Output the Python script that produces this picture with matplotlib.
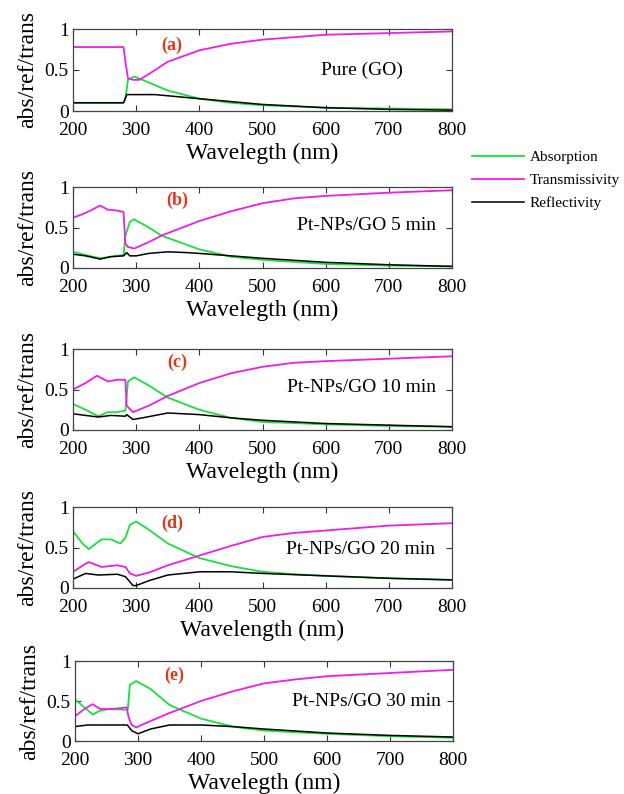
import matplotlib
matplotlib.use("Agg")
import matplotlib.pyplot as plt

plt.rcParams['font.family'] = ['Liberation Serif', 'DejaVu Serif']
plt.rcParams['mathtext.fontset'] = 'stix'

# ---------------- data ----------------
# Panel (a) Pure (GO)
a_abs_x = [200, 240, 280, 283, 287, 297, 310, 350, 400, 450, 500, 600, 700, 800]
a_abs_y = [0.10, 0.10, 0.10, 0.15, 0.38, 0.42, 0.38, 0.25, 0.15, 0.10, 0.07, 0.04, 0.03, 0.02]
a_tr_x = [200, 240, 280, 283, 287, 295, 305, 320, 350, 400, 450, 500, 550, 600, 700, 800]
a_tr_y = [0.78, 0.78, 0.78, 0.60, 0.40, 0.38, 0.38, 0.45, 0.60, 0.74, 0.82, 0.87, 0.90, 0.93, 0.95, 0.97]
a_re_x = [200, 240, 280, 285, 330, 400, 500, 600, 700, 800]
a_re_y = [0.10, 0.10, 0.10, 0.20, 0.20, 0.15, 0.08, 0.04, 0.02, 0.01]

# Panel (b) Pt-NPs/GO 5 min
b_abs_x = [200, 220, 243, 260, 280, 283, 290, 297, 320, 340, 400, 450, 500, 600, 700, 800]
b_abs_y = [0.20, 0.16, 0.12, 0.14, 0.16, 0.40, 0.57, 0.60, 0.50, 0.40, 0.23, 0.14, 0.10, 0.05, 0.03, 0.02]
b_tr_x = [200, 220, 243, 255, 270, 280, 283, 287, 297, 320, 340, 400, 450, 500, 550, 600, 700, 800]
b_tr_y = [0.62, 0.68, 0.77, 0.72, 0.71, 0.69, 0.30, 0.26, 0.24, 0.32, 0.40, 0.58, 0.70, 0.80, 0.86, 0.89, 0.93, 0.96]
b_re_x = [200, 220, 243, 260, 280, 285, 290, 300, 320, 350, 380, 400, 500, 600, 700, 800]
b_re_y = [0.17, 0.15, 0.11, 0.14, 0.15, 0.19, 0.15, 0.15, 0.18, 0.20, 0.19, 0.18, 0.12, 0.07, 0.04, 0.02]

# Panel (c) Pt-NPs/GO 10 min
c_abs_x = [200, 220, 240, 255, 270, 283, 287, 297, 320, 350, 400, 450, 500, 600, 700, 800]
c_abs_y = [0.32, 0.25, 0.17, 0.22, 0.22, 0.24, 0.60, 0.65, 0.55, 0.40, 0.25, 0.15, 0.10, 0.07, 0.05, 0.04]
c_tr_x = [200, 220, 238, 255, 270, 283, 285, 295, 320, 350, 400, 450, 500, 550, 600, 700, 800]
c_tr_y = [0.50, 0.58, 0.67, 0.60, 0.62, 0.62, 0.30, 0.22, 0.30, 0.42, 0.58, 0.70, 0.78, 0.83, 0.85, 0.88, 0.91]
c_re_x = [200, 220, 240, 260, 283, 285, 295, 310, 350, 400, 450, 500, 600, 700, 800]
c_re_y = [0.20, 0.18, 0.16, 0.18, 0.17, 0.19, 0.13, 0.15, 0.21, 0.19, 0.15, 0.12, 0.08, 0.06, 0.04]

# Panel (d) Pt-NPs/GO 20 min
d_abs_x = [200, 215, 225, 245, 260, 275, 283, 290, 300, 320, 350, 400, 450, 500, 550, 600, 700, 800]
d_abs_y = [0.70, 0.55, 0.48, 0.60, 0.60, 0.55, 0.62, 0.78, 0.82, 0.72, 0.55, 0.37, 0.27, 0.20, 0.17, 0.15, 0.12, 0.10]
d_tr_x = [200, 220, 225, 245, 270, 283, 290, 300, 320, 350, 400, 450, 500, 550, 600, 700, 800]
d_tr_y = [0.20, 0.30, 0.32, 0.26, 0.28, 0.26, 0.18, 0.15, 0.19, 0.28, 0.40, 0.52, 0.63, 0.68, 0.71, 0.77, 0.80]
d_re_x = [200, 220, 240, 270, 283, 295, 300, 320, 350, 400, 450, 500, 600, 700, 800]
d_re_y = [0.11, 0.18, 0.16, 0.17, 0.14, 0.03, 0.03, 0.09, 0.16, 0.20, 0.20, 0.18, 0.15, 0.12, 0.10]

# Panel (e) Pt-NPs/GO 30 min
e_abs_x = [200, 215, 228, 240, 255, 280, 284, 287, 297, 320, 350, 400, 450, 500, 600, 700, 800]
e_abs_y = [0.52, 0.42, 0.33, 0.38, 0.40, 0.39, 0.40, 0.70, 0.75, 0.65, 0.45, 0.28, 0.18, 0.13, 0.09, 0.06, 0.04]
e_tr_x = [200, 215, 228, 240, 260, 282, 285, 290, 297, 320, 350, 400, 450, 500, 550, 600, 700, 800]
e_tr_y = [0.31, 0.40, 0.46, 0.40, 0.40, 0.42, 0.30, 0.20, 0.17, 0.25, 0.35, 0.50, 0.62, 0.72, 0.77, 0.81, 0.85, 0.89]
e_re_x = [200, 220, 260, 283, 290, 300, 320, 350, 400, 450, 500, 600, 700, 800]
e_re_y = [0.18, 0.20, 0.20, 0.20, 0.13, 0.09, 0.15, 0.20, 0.20, 0.18, 0.15, 0.10, 0.07, 0.05]

panel_tags = ['(a)', '(b)', '(c)', '(d)', '(e)']
sample_names = ['Pure (GO)', 'Pt-NPs/GO 5 min', 'Pt-NPs/GO 10 min',
                'Pt-NPs/GO 20 min', 'Pt-NPs/GO 30 min']
xlabels = ['Wavelegth (nm)', 'Wavelegth (nm)', 'Wavelegth (nm)',
           'Wavelength (nm)', 'Wavelegth (nm)']
series_names = ['Absorption', 'Transmissivity', 'Reflectivity']
x_ticks = [200, 300, 400, 500, 600, 700, 800]
y_ticks = [0, 0.5, 1]
y_ticklabels = ['0', '0.5', '1']

panels = [
    (a_abs_x, a_abs_y, a_tr_x, a_tr_y, a_re_x, a_re_y),
    (b_abs_x, b_abs_y, b_tr_x, b_tr_y, b_re_x, b_re_y),
    (c_abs_x, c_abs_y, c_tr_x, c_tr_y, c_re_x, c_re_y),
    (d_abs_x, d_abs_y, d_tr_x, d_tr_y, d_re_x, d_re_y),
    (e_abs_x, e_abs_y, e_tr_x, e_tr_y, e_re_x, e_re_y),
]

# ---------------- layout / style ----------------
W, H = 624, 794
fig = plt.figure(figsize=(W / 100, H / 100), dpi=100)

# (top_px, bottom_px, left_px, right_px)
boxes = [(29, 111, 73, 452), (187, 268, 73, 452), (349, 430, 73, 452),
         (507, 588, 73, 452), (661, 741, 75, 453)]
tag_pos = [(357, 0.80), (365, 0.83), (365, 0.84), (357, 0.80), (357, 0.82)]
name_pos = [(657, 0.49), (665, 0.52), (657, 0.52), (655, 0.48), (662, 0.50)]

c_abs = '#19e03a'
c_tr = '#ee1ee6'
c_re = '#000000'

handles = None
for i, (ax_x, ax_y, tr_x, tr_y, re_x, re_y) in enumerate(panels):
    top, bot, lft, rgt = boxes[i]
    ax = fig.add_axes([lft / W, 1 - bot / H, (rgt - lft) / W, (bot - top) / H])
    l1, = ax.plot(ax_x, ax_y, color=c_abs, lw=1.3, label=series_names[0])
    l2, = ax.plot(tr_x, tr_y, color=c_tr, lw=1.3, label=series_names[1])
    l3, = ax.plot(re_x, re_y, color=c_re, lw=1.1, label=series_names[2])
    handles = [l1, l2, l3]
    ax.set_xlim(200, 800)
    ax.set_ylim(0, 1)
    ax.set_xticks(x_ticks)
    ax.set_yticks(y_ticks)
    ax.set_yticklabels(y_ticklabels)
    ax.tick_params(direction='in', top=True, right=True, labelsize=14,
                   length=4, width=0.8, colors='#333333', labelcolor='black')
    ax.tick_params(axis='x', pad=8)
    ax.tick_params(axis='y', pad=3)
    for sp in ax.spines.values():
        sp.set_color('#444444')
        sp.set_linewidth(0.9)
    ax.set_xlabel(xlabels[i], fontsize=17, labelpad=3)
    ax.set_ylabel('abs/ref/trans', fontsize=17, labelpad=5)
    ax.text(tag_pos[i][0], tag_pos[i][1], panel_tags[i], color='#e0361c',
            fontsize=13, fontweight='bold', ha='center', va='center')
    ax.text(name_pos[i][0], name_pos[i][1], sample_names[i], fontsize=14,
            ha='center', va='center')

fig.legend(handles=handles, labels=series_names, loc='upper left',
           bbox_to_anchor=(458 / W, 1 - 137 / H), frameon=False, fontsize=11,
           handlelength=3.4, handletextpad=0.4, labelspacing=0.6)

fig.savefig('out.png', dpi=100)
